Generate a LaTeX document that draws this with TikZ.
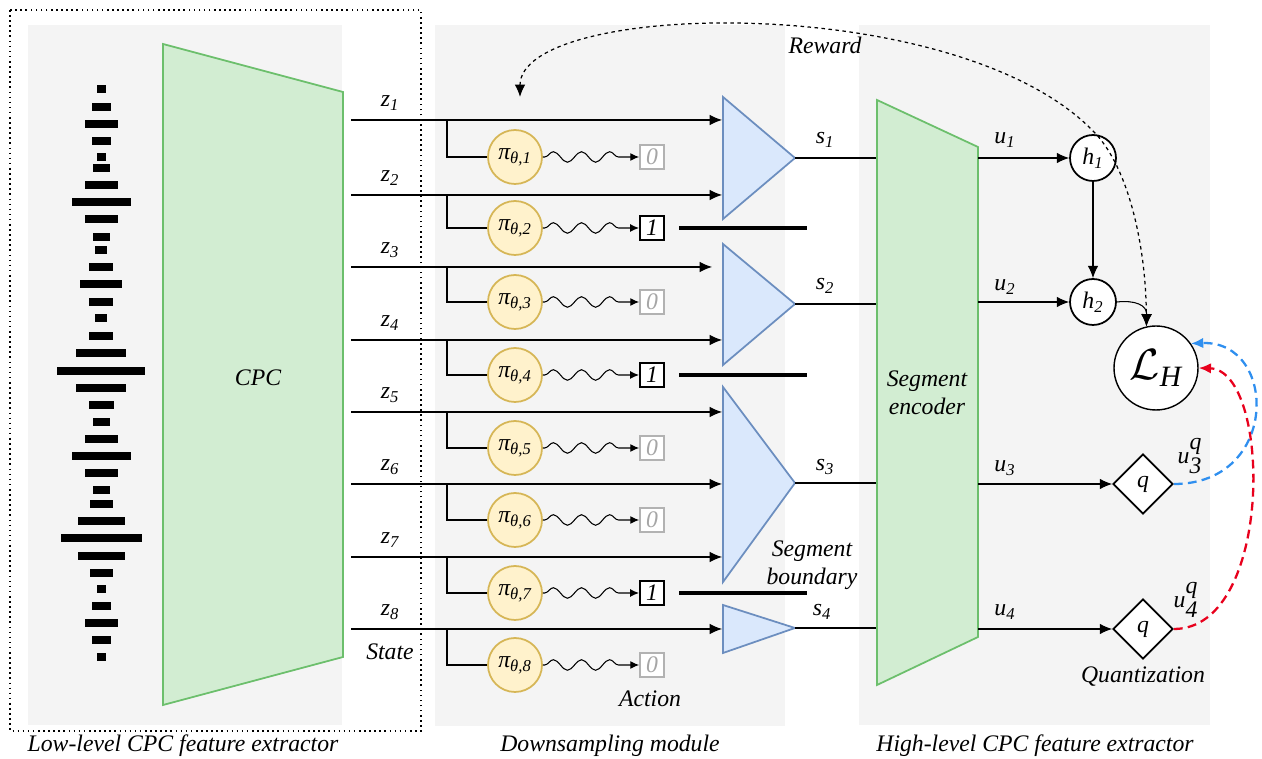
\documentclass[tikz,border=0pt]{standalone}
\usepackage{fontspec}
\setmainfont{Liberation Serif}
\usetikzlibrary{arrows.meta,decorations.pathmorphing,shapes.geometric}

\definecolor{panelgray}{HTML}{F4F4F4}
\definecolor{cpcfill}{HTML}{D2EDD2}
\definecolor{cpcedge}{HTML}{6CBF6C}
\definecolor{poolfill}{HTML}{DAE8FC}
\definecolor{pooledge}{HTML}{6C8EBF}
\definecolor{polfill}{HTML}{FFF2CC}
\definecolor{poledge}{HTML}{D6B656}
\definecolor{lossblue}{HTML}{2F8FEF}
\definecolor{lossred}{HTML}{E8001C}

\tikzset{
	panel/.style={fill=panelgray, draw=none},
	enc/.style={fill=cpcfill, draw=cpcedge, line width=1pt},
	pool/.style={fill=poolfill, draw=pooledge, line width=1pt},
	policy/.style={circle, fill=polfill, draw=poledge, line width=1pt, minimum size=1.08cm, inner sep=0pt},
	act0/.style={draw=black!30, text=black!35, fill=white, line width=1pt, minimum size=0.48cm, inner sep=0pt},
	act1/.style={draw=black, fill=white, line width=1.2pt, minimum size=0.48cm, inner sep=0pt},
	hid/.style={circle, draw, fill=white, line width=1pt, minimum size=0.92cm, inner sep=0pt},
	quant/.style={diamond, draw, fill=white, line width=1pt, minimum size=1.2cm, inner sep=0pt},
	wave/.style={decorate, decoration={snake, segment length=16pt, amplitude=3pt, pre length=1pt, post length=6pt}},
	boundary/.style={line width=2.4pt},
	lossline/.style={->, line width=1.3pt, dash pattern=on 5pt off 3pt},
	lbl/.style={inner sep=1pt}
}

\begin{document}
\begin{tikzpicture}[>={Latex[length=7pt,width=6pt]}, x=0.02cm, y=-0.02cm,
	line width=0.6pt, font=\fontsize{13.5}{16}\selectfont\itshape]
	\useasboundingbox (0,0) rectangle (1262,759);
	
	% 1. Ba vùng nền xám
	\fill[panel] (28,25) rectangle (342,725);
	\fill[panel] (435,25) rectangle (785,726);
	\fill[panel] (859,25) rectangle (1210,725);
	\draw[dotted, line width=0.9pt] (10,10) rectangle (421,731);
	
	% 2. Dạng sóng đầu vào
	\foreach \y/\w in {89/9, 107/19, 124/33, 141/19, 157/9, 168/17, 185/33, 202/59, 219/33,
		237/17, 250/12, 267/24, 284/42, 302/24, 318/12, 336/24, 353/50, 371/88, 388/50,
		405/25, 422/17, 439/33, 456/59, 473/33, 490/17, 504/23, 521/47, 538/81, 556/47,
		573/23, 589/9, 606/19, 623/33, 640/19, 657/9}
	\fill ({101-\w/2},{\y-4}) rectangle ({101+\w/2},{\y+4});
	
	% 3. Bộ mã hóa CPC mức thấp
	\draw[enc] (163,44) -- (343,92) -- (343,657) -- (163,705) -- cycle;
	\node[lbl] (cpc) at (258,378) {CPC};
	
	% 4. Các trạng thái z, chính sách pi và hành động
	\foreach \i/\zy/\py/\ex/\a in {1/120/157/722/0, 2/195/228/722/1, 3/267/302/712/0, 4/340/375/722/1,
		5/412/448/722/0, 6/484/520/722/0, 7/557/593/722/1, 8/629/665/722/0}
	{
		\coordinate (zs\i) at (351,\zy);
		\coordinate (zb\i) at (447,\zy);
		\coordinate (ze\i) at (\ex,\zy);
		\node[lbl] (zl\i) at (390,{\zy-17}) {z\textsubscript{\i}};
		\node[policy] (pi\i) at (515,\py) {π\textsubscript{θ,\i}};
		\node[act\a] (ac\i) at (652,\py) {\a};
		\draw[->] (zs\i) -- (ze\i);
		\draw (zb\i) |- (pi\i);
		\draw[-{Latex[length=5pt,width=4.5pt]}, wave] (pi\i) -- (ac\i);
	}
	
	% 5. Ranh giới đoạn (hành động = 1)
	\draw[boundary] ([xshift=8pt]ac2.east) -- ++(128,0);
	\draw[boundary] ([xshift=8pt]ac4.east) -- ++(128,0);
	\draw[boundary] ([xshift=8pt]ac7.east) -- ++(128,0);
	
	% 6. Gộp thành các đoạn s
	\draw[pool] (723,97) -- (795,158) -- (723,219) -- cycle;
	\draw[pool] (723,244) -- (795,304) -- (723,365) -- cycle;
	\draw[pool] (723,387) -- (795,483) -- (723,582) -- cycle;
	\draw[pool] (723,605) -- (795,628) -- (723,653) -- cycle;
	\coordinate (t1) at (795,158); \coordinate (e1) at (877,158);
	\coordinate (t2) at (795,304); \coordinate (e2) at (877,304);
	\coordinate (t3) at (795,483); \coordinate (e3) at (877,483);
	\coordinate (t4) at (795,628); \coordinate (e4) at (877,628);
	\draw (t1) -- (e1); \draw (t2) -- (e2); \draw (t3) -- (e3); \draw (t4) -- (e4);
	\node[lbl] (s1) at (825,140) {s\textsubscript{1}};
	\node[lbl] (s2) at (825,286) {s\textsubscript{2}};
	\node[lbl] (s3) at (825,467) {s\textsubscript{3}};
	\node[lbl] (s4) at (822,612) {s\textsubscript{4}};
	
	% 7. Bộ mã hóa đoạn
	\draw[enc] (877,100) -- (978,147) -- (978,637) -- (877,685) -- cycle;
	\node[lbl, align=center] (segenc) at (927,393) {Segment\\encoder};
	
	% 8. Mạng h, lượng tử hóa q và hàm mất mát
	\node[hid] (h1) at (1093,158) {h\textsubscript{1}};
	\node[hid] (h2) at (1093,302) {h\textsubscript{2}};
	\node[quant] (q3) at (1143,484) {q};
	\node[quant] (q4) at (1143,629) {q};
	\node[circle, draw, fill=white, line width=0.8pt, minimum size=1.68cm, inner sep=0pt] (lh) at (1156,368)
		{\fontsize{24}{26}\selectfont$\mathcal{L}$\textsubscript{\itshape H}};
	\coordinate (u1) at (978,158);
	\coordinate (u2) at (978,302);
	\coordinate (u3) at (978,484);
	\coordinate (u4) at (978,629);
	\draw[->] (u1) -- (h1);
	\draw[->] (u2) -- (h2);
	\draw[->] (u3) -- (q3);
	\draw[->] (u4) -- (q4);
	\draw[->] (h1) -- (h2);
	\draw[->] (h2.east) .. controls (1135,300) and (1147,305) .. (lh.103);
	\node[lbl] (ul1) at (1005,140) {u\textsubscript{1}};
	\node[lbl] (ul2) at (1005,287) {u\textsubscript{2}};
	\node[lbl] (ul3) at (1005,468) {u\textsubscript{3}};
	\node[lbl] (ul4) at (1005,612) {u\textsubscript{4}};
	\node[lbl] (uq3) at (1190,456) {u$^{\textit{q}}_{\textit{3}}$};
	\node[lbl] (uq4) at (1186,600) {u$^{\textit{q}}_{\textit{4}}$};
	
	% 9. Đường nét đứt về hàm mất mát
	\draw[lossline, lossblue] (q3.east) .. controls (1280,484) and (1278,340) .. (lh.35);
	\draw[lossline, lossred] (q4.east) .. controls (1274,629) and (1272,370) .. (lh.east);
	
	% 10. Phần thưởng
	\coordinate (rw) at (520,97);
	\draw[<->, dash pattern=on 2pt off 2pt, line width=0.7pt] (rw) .. controls (520,0) and (960,-10) .. (1095,133)
		.. controls (1130,170) and (1146,250) .. (lh.103);
	\node[lbl] (reward) at (825,45) {Reward};
	
	% 11. Nhãn
	\node[lbl] (state) at (390,652) {State};
	\node[lbl] (action) at (650,699) {Action};
	\node[lbl, align=center] (segbd) at (812,565) {Segment\\boundary};
	\node[lbl] (quantz) at (1143,677) {Quantization};
	\node[lbl] (cap1) at (183,746) {Low-level CPC feature extractor};
	\node[lbl] (cap2) at (610,746) {Downsampling module};
	\node[lbl] (cap3) at (1035,746) {High-level CPC feature extractor};
	
\end{tikzpicture}
\end{document}
